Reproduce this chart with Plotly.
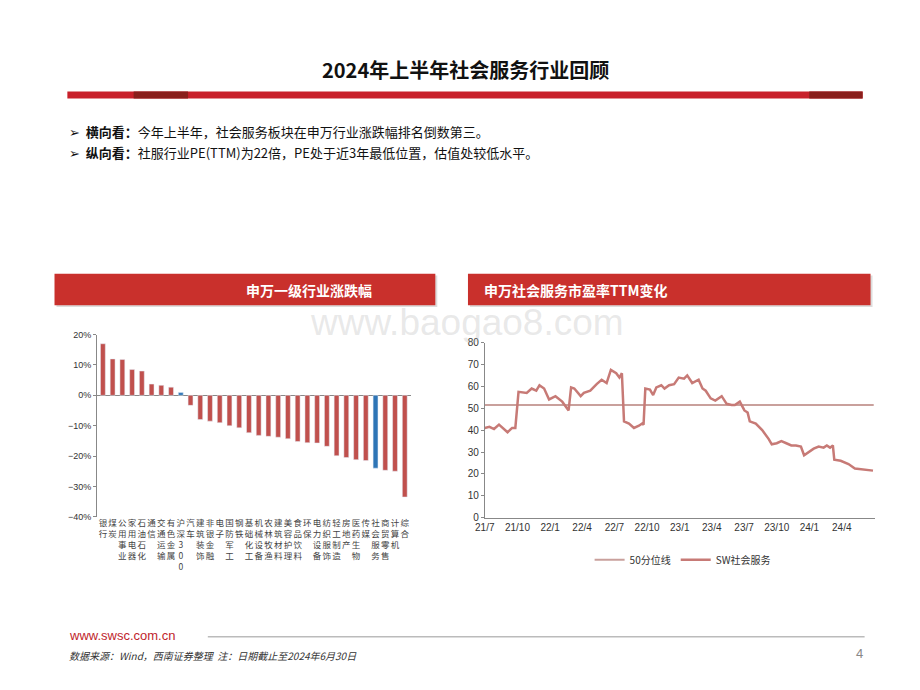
import plotly.graph_objects as go

W, H = 920, 690
def px(x): return x / W
def py(y): return 1 - y / H

cats = ["银行","煤炭","公用事业","家用电器","石油石化","通信","交通运输","有色金属","沪深300","汽车",
        "建筑装饰","非银金融","电子","国防军工","钢铁","基础化工","机械设备","农林牧渔","建筑材料","美容护理",
        "食品饮料","环保","电力设备","纺织服饰","轻工制造","房地产","医药生物","传媒","社会服务","商贸零售","计算机","综合"]
chg = [17, 12, 11.8, 8.5, 8, 3.7, 3.3, 2.7, 0.9, -3.3, -8, -8.5, -9, -10, -10.7, -12.3, -13.2, -13.5, -13.8, -14.3,
       -15.2, -15.6, -15.7, -16.8, -19.9, -20.5, -21.2, -21.5, -24, -24.7, -25, -33.5]
highlight = ["沪深300", "社会服务"]

pe_dates = ["2021-07-01","2021-07-14","2021-07-27","2021-08-10","2021-09-03","2021-09-16","2021-09-25","2021-10-04",
 "2021-10-27","2021-11-10","2021-11-23","2021-12-02","2021-12-15","2021-12-29","2022-01-16","2022-02-04","2022-02-22",
 "2022-03-01","2022-03-10","2022-03-19","2022-03-28","2022-04-06","2022-04-24","2022-05-12","2022-05-26","2022-06-09",
 "2022-06-21","2022-07-06","2022-07-15","2022-07-22","2022-07-28","2022-08-11","2022-08-25","2022-09-08","2022-09-17",
 "2022-09-21","2022-09-26","2022-10-09","2022-10-18","2022-10-27","2022-11-10","2022-11-19","2022-12-02","2022-12-16",
 "2022-12-29","2023-01-13","2023-01-22","2023-02-05","2023-02-23","2023-03-06","2023-03-15","2023-03-29","2023-04-11",
 "2023-04-29","2023-05-13","2023-05-27","2023-06-05","2023-06-19","2023-07-02","2023-07-11","2023-07-17","2023-08-03",
 "2023-08-21","2023-09-08","2023-09-17","2023-10-01","2023-10-14","2023-10-28","2023-11-11","2023-11-24","2023-12-08",
 "2023-12-17","2023-12-31","2024-01-13","2024-01-27","2024-02-10","2024-02-19","2024-02-28","2024-03-07","2024-03-11",
 "2024-03-29","2024-04-20","2024-05-08","2024-06-01","2024-06-28"]
pe_vals = [41,41.5,40.5,42.5,39,41,41,57.5,57,59,58,60.5,59,54,55.5,53,49,59.5,59,57,55.5,57,58,61,63,61.5,67.5,66,64,66,
 44,43,41,42,43,42.5,59,58.5,56,59.5,60.5,59,60.5,61,64,63.5,65,61.5,63,59,58,54.5,53.5,55.5,52,51.5,51.5,53,49,48,44,43,
 40,36,33.5,34,35,34,33,33,32.5,28.5,30,31.5,32.5,32,33,32,33,26.5,26,24.5,22.5,22,21.5]
median = 51.5
xticks = ["2021-07-01","2021-10-01","2022-01-01","2022-04-01","2022-07-01","2022-10-01","2023-01-01","2023-04-01",
          "2023-07-01","2023-10-01","2024-01-01","2024-04-01"]
xticktext = ["21/7","21/10","22/1","22/4","22/7","22/10","23/1","23/4","23/7","23/10","24/1","24/4"]

FONT = "Noto Sans CJK SC"
fig = go.Figure()
fig.add_trace(go.Bar(x=cats, y=chg, marker_color=["#2e75b6" if c in highlight else "#c0504d" for c in cats],
                     width=0.5, showlegend=False, xaxis="x", yaxis="y"))
fig.add_trace(go.Scatter(x=[pe_dates[0], "2024-06-30"], y=[median, median], mode="lines", name="50分位线",
                         line=dict(color="#c9a09c", width=2), xaxis="x2", yaxis="y2"))
fig.add_trace(go.Scatter(x=pe_dates, y=pe_vals, mode="lines", name="SW社会服务",
                         line=dict(color="#c77a76", width=2.5), xaxis="x2", yaxis="y2"))

def vert(s):
    return "<br>".join(list(s))

fig.update_layout(
    width=W, height=H, margin=dict(l=0, r=0, t=0, b=0), paper_bgcolor="white", plot_bgcolor="white",
    font=dict(family=FONT, color="#333"),
    xaxis=dict(domain=[px(88), px(405)], anchor="y", tickmode="array", tickvals=cats,
               ticktext=[vert(c) for c in cats], tickangle=0, tickfont=dict(size=8.5, color="#444"),
               showline=False, ticks="", range=[-0.6, 31.6]),
    yaxis=dict(domain=[py(520), py(335)], range=[-40, 20], dtick=10, ticksuffix="%", showgrid=False,
               showline=True, linecolor="#888", ticks="outside", ticklen=3, tickcolor="#888",
               tickfont=dict(size=9, family="Liberation Sans"), zeroline=True, zerolinecolor="#888", zerolinewidth=1),
    xaxis2=dict(domain=[px(480), px(875)], anchor="y2", type="date", range=["2021-07-01", "2024-07-05"],
                tickmode="array", tickvals=xticks, ticktext=xticktext, showline=True, linecolor="#888",
                ticks="", tickfont=dict(size=10, family="Liberation Sans", color="#333"), showgrid=False),
    yaxis2=dict(domain=[py(521), py(343)], anchor="x2", range=[0, 80], dtick=10, showgrid=False, showline=True,
                linecolor="#888", ticks="outside", ticklen=3, tickcolor="#888",
                tickfont=dict(size=10, family="Liberation Sans", color="#333")),
    legend=dict(orientation="h", x=px(680), y=py(549), xanchor="center", yanchor="top",
                font=dict(size=10, color="#333"), itemwidth=30),
)

shapes = [
    dict(type="rect", xref="paper", yref="paper", x0=px(58), x1=px(862), y0=py(95), y1=py(88),
         fillcolor="#c8202a", line_width=0, layer="below"),
    dict(type="rect", xref="paper", yref="paper", x0=px(125), x1=px(180), y0=py(95), y1=py(88),
         fillcolor="#8a1f1c", line_width=0),
    dict(type="rect", xref="paper", yref="paper", x0=px(808), x1=px(862), y0=py(95), y1=py(88),
         fillcolor="#8a1f1c", line_width=0),
    dict(type="rect", xref="paper", yref="paper", x0=px(47), x1=px(432), y0=py(307), y1=py(275),
         fillcolor="#dddddd", line_width=0),
    dict(type="rect", xref="paper", yref="paper", x0=px(45), x1=px(430), y0=py(305), y1=py(273),
         fillcolor="#c9302c", line_width=0),
    dict(type="rect", xref="paper", yref="paper", x0=px(465), x1=px(872), y0=py(307), y1=py(275),
         fillcolor="#dddddd", line_width=0),
    dict(type="rect", xref="paper", yref="paper", x0=px(463), x1=px(870), y0=py(305), y1=py(273),
         fillcolor="#c9302c", line_width=0),
    dict(type="line", xref="paper", yref="paper", x0=px(200), x1=px(864), y0=py(642), y1=py(642),
         line=dict(color="#bbbbbb", width=1.5)),
]
fig.update_layout(shapes=shapes)

ann = [
    dict(x=0.5, y=py(66), text="<b>2024年上半年社会服务行业回顾</b>", font=dict(size=20, color="#111")),
    dict(x=px(58), y=py(129), xanchor="left", text="➢  <b>横向看：</b>今年上半年，社会服务板块在申万行业涨跌幅排名倒数第三。",
         font=dict(size=13, color="#111")),
    dict(x=px(58), y=py(150), xanchor="left", text="➢  <b>纵向看：</b>社服行业PE(TTM)为22倍，PE处于近3年最低位置，估值处较低水平。",
         font=dict(size=13, color="#111")),
    dict(x=px(237), y=py(290), text="<b>申万一级行业涨跌幅</b>", font=dict(size=14, color="white")),
    dict(x=px(666), y=py(290), text="<b>申万社会服务市盈率TTM变化</b>", font=dict(size=14, color="white")),
    dict(x=px(462), y=py(323), text="www.baogao8.com", font=dict(size=37, color="rgba(180,180,180,0.3)",
         family="Liberation Sans")),
    dict(x=px(58), y=py(641), xanchor="left", text="www.swsc.com.cn", font=dict(size=13, color="#c0262c",
         family="Liberation Sans")),
    dict(x=px(58), y=py(661), xanchor="left", text="<i>数据来源：Wind，西南证券整理  注：日期截止至2024年6月30日</i>",
         font=dict(size=10, color="#333")),
    dict(x=px(864), y=py(659), xanchor="right", text="4", font=dict(size=13, color="#888", family="Liberation Sans")),
]
for a in ann:
    a.setdefault("xref", "paper"); a.setdefault("yref", "paper"); a["showarrow"] = False
    a["yanchor"] = "middle"
fig.update_layout(annotations=ann)

fig.write_html("out.html", config={"displayModeBar": False})
with open("out.html", encoding="utf-8") as f:
    html = f.read()
html = html.replace("<head>", "<head><style>html,body{margin:0;padding:0;}</style>", 1)
with open("out.html", "w", encoding="utf-8") as f:
    f.write(html)
